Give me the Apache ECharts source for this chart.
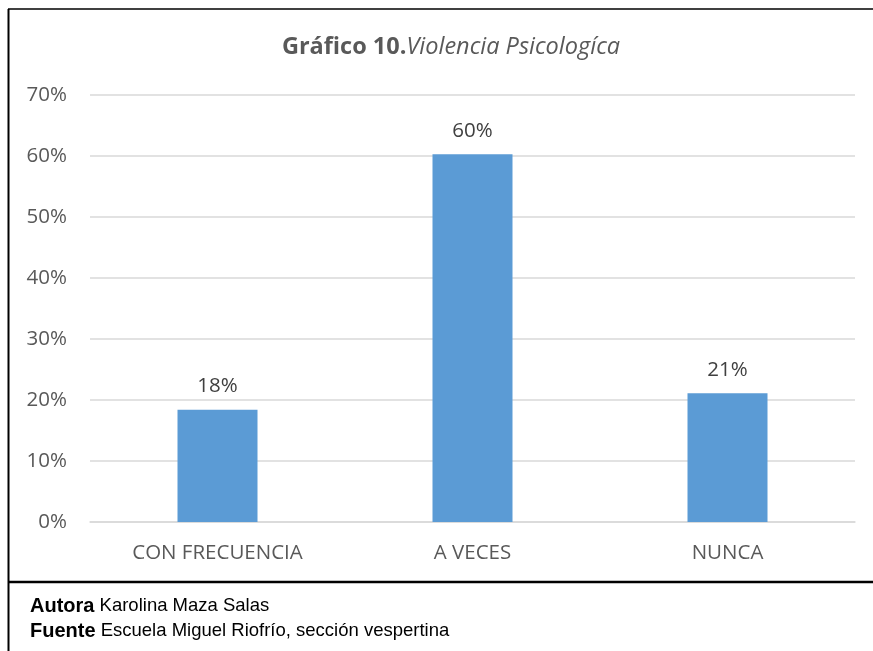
<!DOCTYPE html>
<html>
<head>
<meta charset="utf-8">
<script src="https://cdn.jsdelivr.net/npm/echarts@6/dist/echarts.min.js"></script>
<style>html,body{margin:0;padding:0;background:#fff}#c{width:873px;height:651px}</style>
</head>
<body>
<div id="c"></div>
<script>
const categories = ['CON FRECUENCIA', 'A VECES', 'NUNCA'];
const values = [0.184, 0.603, 0.211];
const yMax = 0.7;
const yInterval = 0.1;

const chart = echarts.init(document.getElementById('c'));
chart.setOption({
  animation: false,
  backgroundColor: '#fff',
  title: {
    text: '{b|Gráfico 10.}{i|Violencia Psicologíca}',
    left: 446, top: 30, textAlign: 'center',
    textStyle: {
      fontWeight: 'normal',
      rich: {
        b: {fontFamily: 'Open Sans', fontWeight: 'bold', fontSize: 23.5, color: '#595959'},
        i: {fontFamily: 'Open Sans', fontStyle: 'italic', fontWeight: 'normal', fontSize: 23.5, color: '#595959'}
      }
    }
  },
  grid: {left: 90, right: 18, top: 95, bottom: 129, containLabel: false},
  xAxis: {
    type: 'category', data: categories,
    axisLine: {lineStyle: {color: '#d9d9d9', width: 1.5}},
    axisTick: {show: false},
    axisLabel: {color: '#595959', fontFamily: 'Open Sans', fontSize: 20.5, margin: 21}
  },
  yAxis: {
    type: 'value', min: 0, max: yMax, interval: yInterval,
    axisLine: {show: false}, axisTick: {show: false},
    splitLine: {lineStyle: {color: '#d9d9d9', width: 1.5}},
    axisLabel: {color: '#595959', fontFamily: 'Open Sans', fontSize: 20.5, margin: 23,
      formatter: v => Math.round(v * 100) + '%'}
  },
  series: [{
    type: 'bar', data: values, barWidth: 80,
    itemStyle: {color: '#5B9BD5'},
    label: {show: true, position: 'top', distance: 13, color: '#404040',
      fontFamily: 'Open Sans', fontSize: 20.5,
      formatter: p => Math.round(p.value * 100) + '%'}
  }],
  graphic: [
    {type: 'line', shape: {x1: 8.5, y1: 9, x2: 8.5, y2: 651}, style: {stroke: '#000', lineWidth: 2}},
    {type: 'line', shape: {x1: 8, y1: 9, x2: 873, y2: 9}, style: {stroke: '#000', lineWidth: 1.5}},
    {type: 'line', shape: {x1: 8, y1: 582, x2: 873, y2: 582}, style: {stroke: '#000', lineWidth: 2.5}},
    {type: 'text', x: 30, y: 606, style: {
      text: '{b|Autora}{n| Karolina Maza Salas}', verticalAlign: 'middle',
      rich: {b: {fontFamily: 'Liberation Sans', fontWeight: 'bold', fontSize: 20, fill: '#000'},
             n: {fontFamily: 'Liberation Sans', fontSize: 18.5, fill: '#000'}}}},
    {type: 'text', x: 30, y: 631, style: {
      text: '{b|Fuente}{n| Escuela Miguel Riofrío, sección vespertina}', verticalAlign: 'middle',
      rich: {b: {fontFamily: 'Liberation Sans', fontWeight: 'bold', fontSize: 20, fill: '#000'},
             n: {fontFamily: 'Liberation Sans', fontSize: 18.5, fill: '#000'}}}}
  ]
});
</script>
</body>
</html>
